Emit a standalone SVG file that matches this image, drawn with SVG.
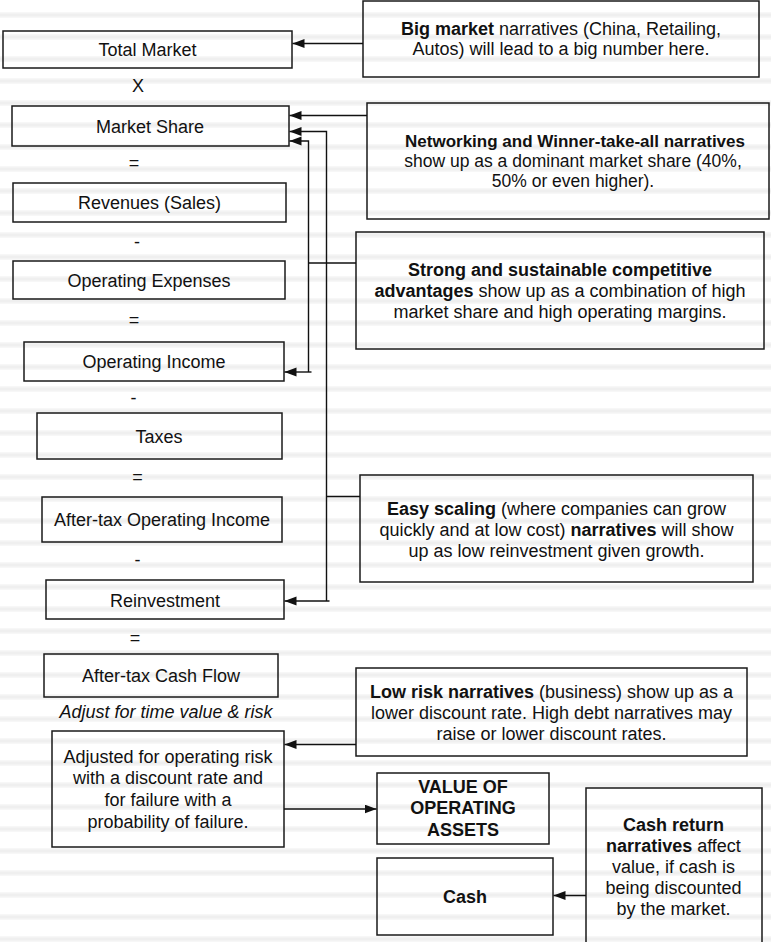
<svg xmlns="http://www.w3.org/2000/svg" width="771" height="942" viewBox="0 0 771 942">
  <defs>
    <!-- faint horizontal ruling behind the whole sheet -->
    <pattern id="ruling" patternUnits="userSpaceOnUse" x="0" y="4" width="771" height="22">
      <rect x="0" y="8" width="771" height="6" fill="#f7f7f7"/>
      <rect x="0" y="9.5" width="771" height="3" fill="#efefef"/>
    </pattern>
    <marker id="arrow" markerUnits="userSpaceOnUse" markerWidth="13" markerHeight="10" refX="12" refY="4.5" orient="auto">
      <path d="M0,0 L12,4.5 L0,9 Z" fill="#111"/>
    </marker>
    <style>
      .box { fill: none; stroke: #1a1a1a; stroke-width: 1.5; }
      .lbl { font-family: "Liberation Sans", Arial, Helvetica, sans-serif; font-size: 18px; fill: #111; text-anchor: middle; }
      .op { font-family: "Liberation Sans", Arial, Helvetica, sans-serif; font-size: 18px; fill: #111; text-anchor: middle; }
      .b { font-weight: bold; }
      .it { font-style: italic; }
      .wire { fill: none; stroke: #111; stroke-width: 1.4; }
      .arr { marker-end: url(#arrow); }
    </style>
  </defs>

  <rect x="0" y="0" width="771" height="942" fill="#ffffff"/>
  <rect x="0" y="0" width="771" height="942" fill="url(#ruling)"/>

  <!-- value chain, left column -->
  <g id="total-market">
    <rect class="box" x="3" y="31" width="289" height="37"/>
    <text class="lbl" x="147.5" y="56">Total Market</text>
  </g>
  <text class="op" x="138" y="91.5">X</text>
  <g id="market-share">
    <rect class="box" x="12" y="106" width="277" height="40"/>
    <text class="lbl" x="150" y="132.5">Market Share</text>
  </g>
  <text class="op" x="134" y="169">=</text>
  <g id="revenues">
    <rect class="box" x="13" y="183" width="273" height="39"/>
    <text class="lbl" x="149.5" y="209">Revenues (Sales)</text>
  </g>
  <text class="op" x="137" y="247.5">-</text>
  <g id="operating-expenses">
    <rect class="box" x="13" y="261" width="272" height="38"/>
    <text class="lbl" x="149" y="286.5">Operating Expenses</text>
  </g>
  <text class="op" x="134" y="326">=</text>
  <g id="operating-income">
    <rect class="box" x="24" y="342" width="260" height="39"/>
    <text class="lbl" x="154" y="368">Operating Income</text>
  </g>
  <text class="op" x="133.5" y="403.5">-</text>
  <g id="taxes">
    <rect class="box" x="37" y="413" width="245" height="46"/>
    <text class="lbl" x="159" y="442.5">Taxes</text>
  </g>
  <text class="op" x="137.5" y="483">=</text>
  <g id="after-tax-operating-income">
    <rect class="box" x="42" y="497" width="240" height="45"/>
    <text class="lbl" x="162" y="526">After-tax Operating Income</text>
  </g>
  <text class="op" x="137.5" y="565.5">-</text>
  <g id="reinvestment">
    <rect class="box" x="46" y="580" width="238" height="39"/>
    <text class="lbl" x="165" y="606.5">Reinvestment</text>
  </g>
  <text class="op" x="135" y="644">=</text>
  <g id="after-tax-cash-flow">
    <rect class="box" x="44" y="654" width="234" height="43"/>
    <text class="lbl" x="161" y="681.5">After-tax Cash Flow</text>
  </g>
  <text class="lbl it" x="166" y="718">Adjust for time value &amp; risk</text>
  <g id="risk-adjustment">
    <rect class="box" x="52" y="731" width="232" height="116"/>
    <text class="lbl" x="168" y="763">Adjusted for operating risk</text>
    <text class="lbl" x="168" y="784">with a discount rate and</text>
    <text class="lbl" x="168" y="805.5">for failure with a</text>
    <text class="lbl" x="168" y="827.5">probability of failure.</text>
  </g>
  <g id="value-of-operating-assets">
    <rect class="box" x="377" y="773" width="172" height="71"/>
    <text class="lbl b" x="463" y="792.5">VALUE OF</text>
    <text class="lbl b" x="463" y="814">OPERATING</text>
    <text class="lbl b" x="463" y="835.5">ASSETS</text>
  </g>
  <g id="cash">
    <rect class="box" x="377" y="858" width="176" height="77"/>
    <text class="lbl b" x="465" y="902.5">Cash</text>
  </g>

  <!-- narrative notes, right column -->
  <g id="note-big-market">
    <rect class="box" x="363" y="1" width="396" height="76"/>
    <text class="lbl" x="561" y="35"><tspan class="b">Big market</tspan> narratives (China, Retailing,</text>
    <text class="lbl" x="561" y="55">Autos) will lead to a big number here.</text>
  </g>
  <g id="note-networking">
    <rect class="box" x="367" y="103" width="402" height="116"/>
    <text class="lbl" x="575" y="146.5" style="font-size:17px"><tspan class="b">Networking and Winner-take-all narratives</tspan></text>
    <text class="lbl" x="573" y="166.5" style="font-size:17.5px">show up as a dominant market share (40%,</text>
    <text class="lbl" x="573" y="186.5" style="font-size:17.5px">50% or even higher).</text>
  </g>
  <g id="note-competitive-advantage">
    <rect class="box" x="356" y="232" width="408" height="117"/>
    <text class="lbl" x="560" y="276"><tspan class="b">Strong and sustainable competitive</tspan></text>
    <text class="lbl" x="560" y="297"><tspan class="b">advantages</tspan> show up as a combination of high</text>
    <text class="lbl" x="560" y="318">market share and high operating margins.</text>
  </g>
  <g id="note-easy-scaling">
    <rect class="box" x="360" y="475" width="393" height="107"/>
    <text class="lbl" x="556.5" y="514.5"><tspan class="b">Easy scaling</tspan> (where companies can grow</text>
    <text class="lbl" x="556.5" y="535.5">quickly and at low cost) <tspan class="b">narratives</tspan> will show</text>
    <text class="lbl" x="556.5" y="557">up as low reinvestment given growth.</text>
  </g>
  <g id="note-low-risk">
    <rect class="box" x="356" y="668" width="391" height="88"/>
    <text class="lbl" x="551.5" y="698"><tspan class="b">Low risk narratives</tspan> (business) show up as a</text>
    <text class="lbl" x="551.5" y="718.5">lower discount rate. High debt narratives may</text>
    <text class="lbl" x="551.5" y="739.5">raise or lower discount rates.</text>
  </g>
  <g id="note-cash-return">
    <path class="box" d="M586,950 V788 H762 V950"/>
    <text class="lbl" x="673.5" y="831"><tspan class="b">Cash return</tspan></text>
    <text class="lbl" x="673.5" y="852"><tspan class="b">narratives</tspan> affect</text>
    <text class="lbl" x="673.5" y="872.5">value, if cash is</text>
    <text class="lbl" x="673.5" y="893.5">being discounted</text>
    <text class="lbl" x="673.5" y="914.5">by the market.</text>
  </g>

  <!-- connectors -->
  <g id="connectors">
    <path class="wire arr" d="M363,43.5 H292.5"/>
    <path class="wire arr" d="M367,115.5 H289.5"/>
    <path class="wire arr" d="M326.5,601 V131.5 H289.5"/>
    <path class="wire arr" d="M308.5,372 V141 H289.5"/>
    <path class="wire" d="M356,263 H308.5"/>
    <path class="wire arr" d="M311.5,372 H284.5"/>
    <path class="wire" d="M360,496.5 H326.5"/>
    <path class="wire arr" d="M329.5,601 H284.5"/>
    <path class="wire arr" d="M356,744.5 H284.5"/>
    <path class="wire arr" d="M284,809 H376.5"/>
    <path class="wire arr" d="M586,895.5 H553.5"/>
  </g>
</svg>
